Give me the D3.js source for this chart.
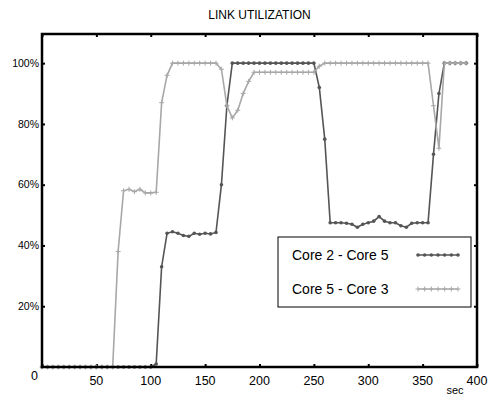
<!DOCTYPE html>
<html>
<head>
<meta charset="utf-8">
<script src="https://cdn.jsdelivr.net/npm/d3@7"></script>
<style>
  body { margin: 0; background: #fff; }
  text { font-family: "Liberation Sans", Arial, sans-serif; }
</style>
</head>
<body>
<svg id="chart"></svg>
<script>
// sample times (sec)
const times = d3.range(0, 395, 5);

// Core 2 - Core 5 utilization (%)
const core2core5 = [
  0, 0, 0, 0, 0, 0, 0, 0, 0, 0, 0, 0, 0, 0, 0, 0, 0, 0, 0, 0, 0,
  1, 33, 44, 44.5, 44, 43.3, 43, 44, 43.7, 44, 43.8, 44.3,
  60, 86, 100,
  100, 100, 100, 100, 100, 100, 100, 100, 100, 100, 100, 100, 100, 100, 100,
  92, 75, 47.5, 47.5, 47.5, 47.3, 47, 46, 47, 47.5, 48, 49.5, 48, 47.5, 47.5,
  46.5, 46, 47.3, 47.5, 47.5, 47.5,
  70, 90, 100, 100, 100, 100, 100
];

// Core 5 - Core 3 utilization (%)
const core5core3 = [
  0, 0, 0, 0, 0, 0, 0, 0, 0, 0, 0, 0, 0, 0,
  38, 58, 58.5, 57.7, 58.5, 57.3, 57.3, 57.5,
  87, 96,
  100, 100, 100, 100, 100, 100, 100, 100, 100,
  98, 86, 82, 84.5, 90, 94, 97,
  97, 97, 97, 97, 97, 97, 97, 97, 97, 97, 97,
  99, 100,
  100, 100, 100, 100, 100, 100, 100, 100, 100, 100, 100, 100, 100, 100, 100, 100, 100, 100, 100,
  86, 72, 100, 100, 100, 100, 100
];

const xTicks = [0, 50, 100, 150, 200, 250, 300, 350, 400];
const yTicks = [20, 40, 60, 80, 100];

const series = [
  {name: "Core 2 - Core 5", values: core2core5, color: "#555", marker: "dot"},
  {name: "Core 5 - Core 3", values: core5core3, color: "#a8a8a8", marker: "plus"}
];

const width = 492, height = 396;
const plotLeft = 42, plotRight = 477, plotTop = 34, plotBottom = 367;

const svg = d3.select("#chart")
  .attr("width", width)
  .attr("height", height);

const x = d3.scaleLinear().domain([0, 400]).range([plotLeft, plotRight]);
const y = d3.scaleLinear().domain([0, 109.6]).range([plotBottom, plotTop]);

// title
svg.append("text")
  .attr("x", (plotLeft + plotRight) / 2)
  .attr("y", 19)
  .attr("text-anchor", "middle")
  .attr("font-size", 12)
  .text("LINK UTILIZATION");

// axes: ticks pointing inwards on all four sides
const tickLen = 3;
svg.append("g")
  .attr("transform", `translate(0,${plotBottom})`)
  .call(d3.axisTop(x).tickValues(xTicks).tickSize(tickLen).tickFormat(""))
  .call(g => g.select(".domain").remove());
svg.append("g")
  .attr("transform", `translate(0,${plotTop})`)
  .call(d3.axisBottom(x).tickValues(xTicks).tickSize(tickLen).tickFormat(""))
  .call(g => g.select(".domain").remove());
svg.append("g")
  .attr("transform", `translate(${plotLeft},0)`)
  .call(d3.axisRight(y).tickValues(yTicks).tickSize(tickLen).tickFormat(""))
  .call(g => g.select(".domain").remove());
svg.append("g")
  .attr("transform", `translate(${plotRight},0)`)
  .call(d3.axisLeft(y).tickValues(yTicks).tickSize(tickLen).tickFormat(""))
  .call(g => g.select(".domain").remove());
svg.selectAll(".tick line").attr("stroke", "#000").attr("stroke-width", 2);

// tick labels
svg.append("g")
  .selectAll("text")
  .data(xTicks.filter(d => d > 0))
  .join("text")
  .attr("x", d => x(d))
  .attr("y", plotBottom + 18)
  .attr("text-anchor", "middle")
  .attr("font-size", 12.5)
  .text(d => d);
svg.append("text")
  .attr("x", plotLeft - 4)
  .attr("y", plotBottom + 13)
  .attr("text-anchor", "end")
  .attr("font-size", 12.5)
  .text("0");
svg.append("g")
  .selectAll("text")
  .data(yTicks)
  .join("text")
  .attr("x", plotLeft - 3)
  .attr("y", d => y(d))
  .attr("dy", "0.35em")
  .attr("text-anchor", "end")
  .attr("font-size", 10.5)
  .text(d => d + "%");
svg.append("text")
  .attr("x", 455)
  .attr("y", 394)
  .attr("text-anchor", "middle")
  .attr("font-size", 11)
  .text("sec");

// lines
const line = d3.line()
  .x((d, i) => x(times[i]))
  .y(d => y(d));

function drawMarkers(g, s, pts) {
  const m = g.append("g");
  if (s.marker === "dot") {
    m.selectAll("circle")
      .data(pts)
      .join("circle")
      .attr("cx", d => d[0])
      .attr("cy", d => d[1])
      .attr("r", 1.8)
      .attr("fill", s.color);
  } else {
    m.selectAll("path")
      .data(pts)
      .join("path")
      .attr("d", d => `M${d[0]},${d[1] - 2.5}V${d[1] + 2.5}M${d[0] - 2.5},${d[1]}H${d[0] + 2.5}`)
      .attr("stroke", s.color)
      .attr("stroke-width", 1);
  }
}

const plot = svg.append("g");
series.forEach(s => {
  const g = plot.append("g");
  g.append("path")
    .datum(s.values)
    .attr("fill", "none")
    .attr("stroke", s.color)
    .attr("stroke-width", 1.6)
    .attr("d", line);
  drawMarkers(g, s, s.values.map((v, i) => [x(times[i]), y(v)]));
});

// frame
svg.append("rect")
  .attr("x", plotLeft)
  .attr("y", plotTop)
  .attr("width", plotRight - plotLeft)
  .attr("height", plotBottom - plotTop)
  .attr("fill", "none")
  .attr("stroke", "#000")
  .attr("stroke-width", 2.5);

// legend
const legend = svg.append("g");
legend.append("rect")
  .attr("x", 278)
  .attr("y", 237)
  .attr("width", 193)
  .attr("height", 70)
  .attr("fill", "#fff")
  .attr("stroke", "#000")
  .attr("stroke-width", 1);
series.forEach((s, i) => {
  const cy = 255 + i * 34;
  legend.append("text")
    .attr("x", 292)
    .attr("y", cy)
    .attr("dy", "0.36em")
    .attr("font-size", 14)
    .text(s.name);
  legend.append("line")
    .attr("x1", 418).attr("x2", 458)
    .attr("y1", cy).attr("y2", cy)
    .attr("stroke", s.color)
    .attr("stroke-width", 1.6);
  drawMarkers(legend, s, d3.range(7).map(k => [418 + k * 40 / 6, cy]));
});
</script>
</body>
</html>
